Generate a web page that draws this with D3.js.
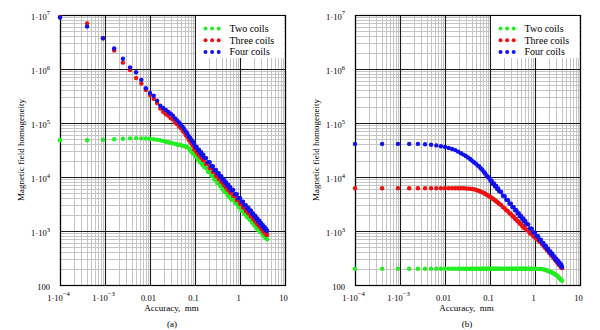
<!DOCTYPE html>
<html><head><meta charset="utf-8">
<script src="https://cdn.jsdelivr.net/npm/d3@7"></script>
<style>
body{margin:0;background:#fff}
svg{display:block}
text{font-family:"Liberation Serif","Times New Roman",serif;fill:#000}
</style>
</head><body>
<svg id="c" width="600" height="330"></svg>
<script>
// ---- data ----
const accuracy = [0.0001,0.0004,0.0009,0.0016,0.0025,0.0036,0.0049,0.0064,0.0081,0.01,
0.0121,0.0144,0.0169,0.0196,0.0225,0.0256,0.0289,0.0324,0.0361,0.04,
0.0441,0.0484,0.0529,0.0576,0.0625,0.0676,0.0729,0.0784,0.0841,0.09,
0.0961,0.1024,0.1089,0.1156,0.1225,0.1296,0.1369,0.1444,0.1521,0.16,
0.1764,0.1936,0.2116,0.2304,0.25,0.2704,0.2916,0.3136,0.3364,0.36,
0.3844,0.4096,0.4356,0.4624,0.49,0.5184,0.5476,0.5776,0.6084,0.64,
0.7056,0.7744,0.8464,0.9216,1.0,1.0816,1.1664,1.2544,1.3456,1.44,
1.5376,1.6384,1.7424,1.8496,1.96,2.0736,2.1904,2.3104,2.4336,2.56,
2.6896,2.8224,2.9584,3.0976,3.24,3.3856,3.5344,3.6864,3.8416,4.0];

// panel (a)
const twoCoilsA = [4.8e4,4.8e4,4.9e4,5.0e4,5.1e4,5.2e4,5.25e4,5.2e4,5.15e4,5.1e4,
5.0e4,4.9e4,4.8e4,4.65e4,4.5e4,4.4e4,4.3e4,4.2e4,4.1e4,4.0e4,
3.95e4,3.9e4,3.8e4,3.75e4,3.65e4,3.55e4,3.4e4,3.1e4,2.9e4,2.75e4,
2.65e4,2.4e4,2.35e4,2.12e4,2.1e4,1.88e4,1.87e4,1.7e4,1.69e4,1.53e4,
1.46e4,1.25e4,1.23e4,1.05e4,1.04e4,9.0e3,8.9e3,7.7e3,7.8e3,6.8e3,
6.7e3,5.95e3,5.9e3,5.28e3,5.25e3,4.7e3,4.7e3,4.22e3,4.23e3,3.82e3,
3.85e3,3.33e3,3.2e3,2.8e3,2.72e3,2.38e3,2.33e3,2.05e3,2.02e3,1.79e3,
1.81e3,1.62e3,1.6e3,1.43e3,1.42e3,1.28e3,1.27e3,1.15e3,1.14e3,1.03e3,
1.06e3,970,965,885,880,810,805,745,740,700];
const threeCoilsA = [9.2e6,7.0e6,3.7e6,2.2e6,1.31e6,9.6e5,6.8e5,5.4e5,4.1e5,3.3e5,
2.8e5,2.35e5,1.85e5,1.62e5,1.45e5,1.36e5,1.22e5,1.16e5,1.02e5,9.6e4,
8.6e4,8.1e4,7.2e4,6.7e4,5.9e4,5.5e4,4.85e4,4.5e4,4.1e4,3.8e4,
3.23e4,3.28e4,2.85e4,2.91e4,2.53e4,2.59e4,2.27e4,2.33e4,2.04e4,2.1e4,
1.76e4,1.74e4,1.47e4,1.46e4,1.24e4,1.25e4,1.06e4,1.07e4,9.2e3,9.4e3,
8.1e3,8.2e3,7.1e3,7.27e3,6.35e3,6.48e3,5.66e3,5.81e3,5.1e3,5.25e3,
4.5e3,4.45e3,3.76e3,3.74e3,3.19e3,3.19e3,2.73e3,2.75e3,2.36e3,2.39e3,
2.12e3,2.15e3,1.87e3,1.91e3,1.66e3,1.71e3,1.49e3,1.53e3,1.34e3,1.38e3,
1.22e3,1.25e3,1.1e3,1.14e3,1.0e3,1.04e3,925,960,850,850];
const fourCoilsA = [9.0e6,6.1e6,3.7e6,2.4e6,1.55e6,1.07e6,8.7e5,6.3e5,4.4e5,3.6e5,
3.2e5,2.6e5,2.1e5,1.9e5,1.75e5,1.6e5,1.48e5,1.36e5,1.22e5,1.12e5,
1.02e5,9.4e4,8.5e4,7.8e4,7.0e4,6.4e4,5.7e4,5.3e4,4.8e4,4.5e4,
4.1e4,3.6e4,3.6e4,3.15e4,3.2e4,2.82e4,2.88e4,2.53e4,2.6e4,2.3e4,
2.24e4,1.88e4,1.87e4,1.58e4,1.58e4,1.35e4,1.35e4,1.16e4,1.18e4,1.02e4,
1.03e4,8.9e3,9.1e3,7.9e3,8.05e3,7.05e3,7.2e3,6.3e3,6.5e3,5.7e3,
5.75e3,4.84e3,4.8e3,4.06e3,4.06e3,3.47e3,3.47e3,2.99e3,3.02e3,2.6e3,
2.7e3,2.34e3,2.39e3,2.07e3,2.12e3,1.85e3,1.9e3,1.66e3,1.71e3,1.5e3,
1.55e3,1.36e3,1.4e3,1.24e3,1.28e3,1.13e3,1.18e3,1.05e3,1.08e3,1.0e3];

// panel (b)
const twoCoilsB = [200,200,200,200,200,200,200,200,200,200,
200,200,200,200,200,200,200,200,200,200,
200,200,200,200,200,200,200,200,200,200,
200,200,200,200,200,200,200,200,200,200,
200,200,200,200,200,200,200,200,200,200,
200,200,200,200,200,200,200,200,200,200,
200,200,200,200,200,199,199,198,198,197,
195,192,189,186,182,179,175,172,168,165,
161,157,153,148,143,138,133,128,124,120];
const threeCoilsB = [6.2e3,6.2e3,6.2e3,6.2e3,6.2e3,6.2e3,6.2e3,6.2e3,6.2e3,6.2e3,
6.2e3,6.2e3,6.2e3,6.2e3,6.2e3,6.2e3,6.15e3,6.1e3,6.05e3,6.0e3,
5.9e3,5.8e3,5.65e3,5.5e3,5.35e3,5.2e3,5.05e3,4.9e3,4.7e3,4.55e3,
4.4e3,4.25e3,4.1e3,3.95e3,3.82e3,3.7e3,3.57e3,3.45e3,3.32e3,3.2e3,
3.03e3,2.77e3,2.63e3,2.42e3,2.33e3,2.14e3,2.07e3,1.89e3,1.84e3,1.68e3,
1.65e3,1.51e3,1.5e3,1.36e3,1.36e3,1.24e3,1.24e3,1.13e3,1.13e3,1.05e3,
1.01e3,900,878,793,775,705,694,632,622,563,
550,495,485,438,430,391,386,351,347,318,
310,284,283,259,258,237,237,218,217,205];
const fourCoilsB = [4.1e4,4.1e4,4.1e4,4.1e4,4.1e4,4.05e4,3.95e4,3.85e4,3.7e4,3.6e4,
3.45e4,3.3e4,3.15e4,2.95e4,2.75e4,2.6e4,2.45e4,2.3e4,2.15e4,2.0e4,
1.87e4,1.77e4,1.64e4,1.56e4,1.44e4,1.36e4,1.24e4,1.16e4,1.06e4,1.0e4,
9.7e3,8.5e3,8.55e3,7.52e3,7.6e3,6.7e3,6.8e3,6.02e3,6.12e3,5.44e3,
5.28e3,4.49e3,4.4e3,3.78e3,3.73e3,3.22e3,3.2e3,2.77e3,2.77e3,2.42e3,
2.42e3,2.12e3,2.14e3,1.88e3,1.9e3,1.68e3,1.7e3,1.51e3,1.53e3,1.36e3,
1.32e3,1.12e3,1.1e3,943,932,803,799,692,692,603,
599,524,529,464,470,414,420,372,379,336,
338,301,307,274,281,251,258,231,237,215];

const seriesNames = ["Two coils","Three coils","Four coils"];
const seriesColors = ["#22ee22","#ee1111","#1111ee"];
const panelLabels = ["(a)","(b)"];
const xTickValues = [1e-4,1e-3,0.01,0.1,1,10];
const xTickLabels = ["1·10^−4","1·10^−3","0.01","0.1","1","10"];
const yTickValues = [100,1e3,1e4,1e5,1e6,1e7];
const yTickLabels = ["100","1·10^3","1·10^4","1·10^5","1·10^6","1·10^7"];
const xTitle = "Accuracy,  mm";
const yTitle = "Magnetic field homogeneity";

const panels = [
  {x0:60, label:panelLabels[0], series:[twoCoilsA,threeCoilsA,fourCoilsA]},
  {x0:355, label:panelLabels[1], series:[twoCoilsB,threeCoilsB,fourCoilsB]}
];

const svg = d3.select("#c");
const W = 225, plotTop = 15, plotBottom = 285;

function addLabel(sel, str, fs, sup){
  const parts = str.split("^");
  sel.append("tspan").text(parts[0]);
  if (parts.length > 1) sel.append("tspan").attr("dy", -sup).attr("font-size", fs*0.78).text(parts[1]);
}

panels.forEach(p => {
  const x = d3.scaleLog().domain([1e-4,10]).range([p.x0, p.x0 + W]);
  const y = d3.scaleLog().domain([100,1e7]).range([plotBottom, plotTop]);
  const g = svg.append("g");

  // minor grid
  const minorX = [], minorY = [];
  [1e-4,1e-3,1e-2,1e-1,1].forEach(d => { for (let m=2;m<=9;m++) minorX.push(m*d); });
  [1e2,1e3,1e4,1e5,1e6].forEach(d => { for (let m=2;m<=9;m++) minorY.push(m*d); });
  const crisp = v => Math.round(v) + 0.5;
  g.selectAll(".mx").data(minorX).enter().append("line")
    .attr("x1", d=>crisp(x(d))).attr("x2", d=>crisp(x(d))).attr("y1", plotTop).attr("y2", plotBottom)
    .attr("stroke","#c4c4c4").attr("stroke-width",1);
  g.selectAll(".my").data(minorY).enter().append("line")
    .attr("y1", d=>crisp(y(d))).attr("y2", d=>crisp(y(d))).attr("x1", p.x0).attr("x2", p.x0+W)
    .attr("stroke","#c4c4c4").attr("stroke-width",1);
  // major grid
  g.selectAll(".Mx").data(xTickValues).enter().append("line")
    .attr("x1", d=>crisp(x(d))).attr("x2", d=>crisp(x(d))).attr("y1", plotTop).attr("y2", plotBottom)
    .attr("stroke","#1a1a1a").attr("stroke-width",1.1);
  g.selectAll(".My").data(yTickValues).enter().append("line")
    .attr("y1", d=>crisp(y(d))).attr("y2", d=>crisp(y(d))).attr("x1", p.x0).attr("x2", p.x0+W)
    .attr("stroke","#1a1a1a").attr("stroke-width",1.1);
  g.append("rect").attr("x", p.x0+0.5).attr("y", plotTop+0.5).attr("width", W).attr("height", plotBottom-plotTop)
    .attr("fill","none").attr("stroke","#000").attr("stroke-width",1.2);

  // points
  p.series.forEach((vals, si) => {
    g.append("g").selectAll("circle").data(vals).enter().append("circle")
      .attr("cx", (d,i)=>x(accuracy[i])).attr("cy", d=>y(d)).attr("r", 2.2)
      .attr("fill", seriesColors[si]);
  });

  // legend
  const lx = p.x0 + 136, ly = plotTop + 1;
  g.append("rect").attr("x", lx).attr("y", ly).attr("width", 88).attr("height", 42).attr("fill","#fff");
  seriesNames.forEach((name, si) => {
    const yy = ly + 12.5 + si*11.7;
    [0,1,2].forEach(k => g.append("circle").attr("cx", lx + 9.5 + k*6.6).attr("cy", yy).attr("r", 2)
      .attr("fill", seriesColors[si]));
    g.append("text").attr("x", lx + 33.5).attr("y", yy + 3.5).attr("font-size", 10).text(name);
  });

  // tick labels
  xTickValues.forEach((v,i) => {
    const t = g.append("text").attr("x", x(v) - 1.5).attr("y", 300.5)
      .attr("text-anchor","middle").attr("font-size", 8.5);
    addLabel(t, xTickLabels[i], 8.5, 5);
  });
  yTickValues.forEach((v,i) => {
    const t = g.append("text").attr("x", p.x0 - 10).attr("y", y(v) + 4.8)
      .attr("text-anchor","end").attr("font-size", 8.5);
    addLabel(t, yTickLabels[i], 8.5, 4.3);
  });

  // titles
  g.append("text").attr("x", p.x0 + W/2 - 1).attr("y", 311).attr("text-anchor","middle")
    .attr("font-size", 9).style("white-space","pre").text(xTitle);
  g.append("text").attr("transform", `translate(${p.x0 - 39},150) rotate(-90)`)
    .attr("text-anchor","middle").attr("dy","0.35em").attr("font-size", 9).text(yTitle);
  g.append("text").attr("x", p.x0 + W/2 - 0.5).attr("y", 326.5).attr("text-anchor","middle")
    .attr("font-size", 9).text(p.label);
});
</script>
</body></html>
